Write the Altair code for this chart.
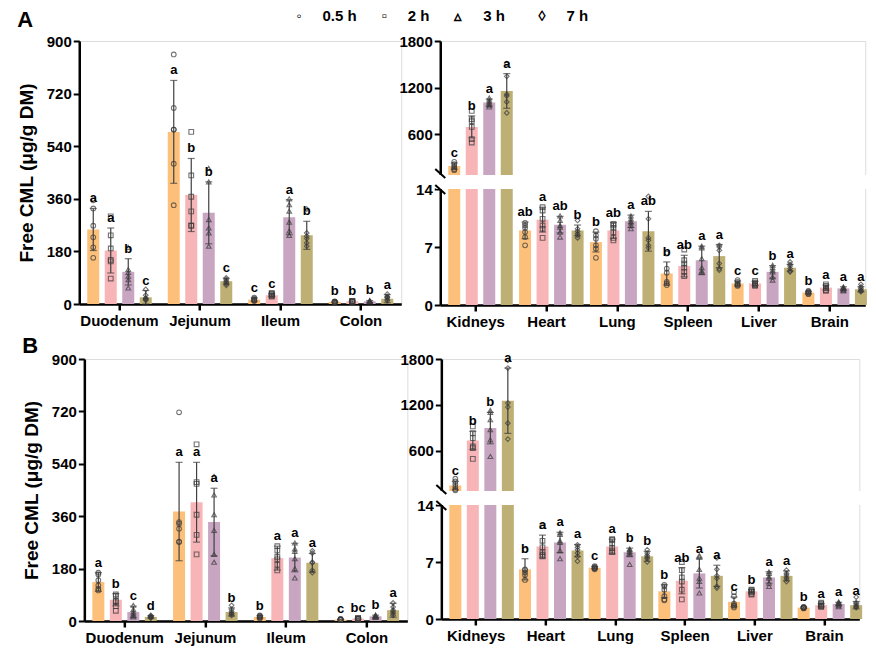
import altair as alt
import pandas as pd

# ---------------- data ----------------
times = ["0.5 h", "2 h", "3 h", "7 h"]
gi_tissues = ["Duodenum", "Jejunum", "Ileum", "Colon"]
organs = ["Kidneys", "Heart", "Lung", "Spleen", "Liver", "Brain"]

# Panel A - GI tract
a_gi_mean = [[255, 183, 110, 23], [589, 373, 312, 78], [15, 30, 297, 235], [7, 9, 9, 18]]
a_gi_sd = [[72, 77, 45, 23], [176, 125, 106, 10], [6, 5, 60, 48], [2, 2, 3, 14]]
a_gi_letters = [["a", "a", "b", "c"], ["a", "b", "b", "c"], ["c", "c", "a", "b"], ["b", "b", "b", "a"]]
a_gi_points = [
    [[355, 327, 268, 228, 194, 158], [300, 235, 190, 151, 146, 87], [194, 118, 108, 95, 83, 55], [50, 30, 20, 18, 15, 13]],
    [[854, 671, 597, 597, 480, 338], [589, 440, 367, 317, 268, 268], [464, 418, 289, 260, 243, 198], [89, 83, 78, 74, 69, 64]],
    [[22, 18, 15, 13, 12, 10], [38, 35, 33, 30, 28, 25], [360, 340, 318, 280, 250, 235], [325, 243, 232, 224, 209, 198]],
    [[9, 8, 7, 7, 6, 5], [11, 10, 9, 9, 8, 7], [12, 10, 9, 9, 8, 7], [34, 26, 23, 21, 15, 11]],
]

# Panel A - organs
a_org_mean = [[190, 694, 1007, 1157], [9.0, 10.3, 9.7, 9.0], [7.6, 9.0, 10.1, 8.9],
              [3.8, 4.7, 5.4, 5.9], [2.6, 2.6, 4.0, 4.5], [1.5, 2.1, 2.0, 1.9]]
a_org_sd = [[40, 142, 47, 223], [1.0, 1.5, 1.0, 0.65], [1.2, 0.95, 0.75, 2.4],
            [1.4, 1.3, 1.7, 1.4], [0.3, 0.25, 0.75, 0.4], [0.15, 0.3, 0.2, 0.3]]
a_org_letters = [["c", "b", "a", "a"], ["ab", "a", "ab", "b"], ["b", "ab", "a", "ab"],
                 ["b", "ab", "a", "a"], ["c", "c", "b", "a"], ["b", "a", "a", "a"]]
a_org_points = [
    [[244, 214, 189, 171, 150, 137], [900, 793, 767, 694, 536, 493], [1067, 1037, 1016, 994, 973, 951], [1509, 1346, 1114, 1093, 1016, 874]],
    [[9.9, 9.6, 9.3, 8.8, 8.2, 7.2], [11.8, 11.4, 10.4, 9.6, 9.2, 8.1], [10.75, 10.2, 9.6, 9.4, 8.8, 8.2], [10.2, 9.2, 8.9, 8.6, 8.4, 8.1]],
    [[8.9, 8.4, 8.0, 7.2, 6.8, 5.7], [9.8, 9.6, 9.3, 8.8, 8.1, 7.8], [10.75, 10.4, 10.1, 9.9, 9.6, 9.2], [13.1, 10.4, 8.1, 7.8, 7.2, 6.9]],
    [[6.2, 4.4, 3.9, 2.8, 2.6, 2.4], [6.7, 5.4, 5.0, 4.5, 4.0, 3.5], [7.1, 6.9, 5.6, 4.5, 4.1, 3.9], [7.2, 7.0, 6.6, 5.0, 4.4, 4.2]],
    [[3.0, 2.8, 2.6, 2.5, 2.4, 2.3], [2.9, 2.7, 2.6, 2.5, 2.4, 2.3], [4.8, 4.5, 4.2, 4.0, 3.4, 3.0], [5.2, 4.9, 4.7, 4.4, 4.1, 4.0]],
    [[1.7, 1.6, 1.5, 1.5, 1.4, 1.3], [2.5, 2.3, 2.1, 2.0, 1.8, 1.7], [2.2, 2.1, 2.0, 1.9, 1.8, 1.7], [2.5, 2.2, 2.0, 1.8, 1.7, 1.6]],
]

# Panel B - GI tract
b_gi_mean = [[134, 73, 31, 14], [376, 408, 340, 31], [14, 216, 218, 200], [5, 8, 16, 37]]
b_gi_sd = [[32, 21, 20, 4], [169, 137, 116, 14], [4, 41, 49, 32], [1, 2, 4, 24]]
b_gi_letters = [["a", "b", "c", "d"], ["a", "a", "a", "b"], ["b", "a", "a", "a"], ["c", "bc", "b", "a"]]
b_gi_points = [
    [[166, 160, 140, 122, 111, 105], [91, 86, 69, 65, 51, 35], [54, 40, 31, 24, 19, 14], [19, 17, 15, 13, 12, 10]],
    [[717, 340, 334, 317, 273, 271], [607, 477, 471, 365, 296, 229], [497, 433, 365, 311, 229, 202], [54, 40, 33, 27, 24, 19]],
    [[19, 17, 15, 13, 11, 9], [257, 242, 220, 212, 193, 174], [268, 248, 239, 214, 180, 148], [241, 233, 202, 200, 174, 166]],
    [[7, 6, 5, 5, 4, 4], [10, 9, 8, 8, 7, 6], [21, 18, 16, 15, 14, 12], [62, 48, 37, 31, 25, 19]],
]

# Panel B - organs
b_org_mean = [[146, 735, 897, 1255], [6.1, 8.9, 9.4, 8.4], [6.3, 8.9, 8.2, 7.7],
              [3.4, 4.7, 5.6, 5.3], [2.1, 3.4, 5.1, 5.3], [1.4, 1.7, 1.85, 1.7]]
b_org_sd = [[55, 118, 205, 427], [1.3, 1.4, 1.25, 0.75], [0.15, 0.9, 0.5, 0.6],
            [0.8, 1.6, 1.8, 1.3], [0.6, 0.2, 0.7, 0.6], [0.08, 0.2, 0.2, 0.45]]
b_org_letters = [["c", "b", "b", "a"], ["b", "a", "a", "a"], ["c", "a", "b", "b"],
                 ["b", "ab", "a", "a"], ["c", "b", "a", "a"], ["b", "a", "a", "a"]]
b_org_points = [
    [[235, 200, 165, 130, 100, 85], [919, 831, 766, 657, 635, 495], [1128, 1102, 1006, 875, 744, 526], [1783, 1682, 1224, 1172, 962, 753]],
    [[8.5, 6.1, 6.0, 5.7, 5.4, 4.8], [11.4, 9.6, 8.8, 8.2, 7.9, 7.7], [10.6, 10.4, 9.6, 9.4, 8.4, 7.4], [9.1, 8.8, 8.5, 8.1, 7.7, 7.1]],
    [[6.5, 6.4, 6.3, 6.25, 6.2, 6.1], [9.8, 9.7, 9.3, 8.7, 8.4, 8.2], [8.6, 8.5, 8.3, 8.1, 7.9, 6.7], [8.5, 8.1, 7.8, 7.6, 7.4, 7.0]],
    [[4.2, 4.0, 3.6, 2.8, 2.4, 2.3], [7.0, 6.0, 5.1, 4.6, 3.6, 2.4], [7.8, 7.6, 6.1, 5.0, 4.6, 3.2], [7.5, 6.1, 5.3, 5.0, 4.0, 3.8]],
    [[3.3, 2.8, 1.9, 1.7, 1.6, 1.4], [3.6, 3.5, 3.4, 3.3, 3.1, 3.0], [5.8, 5.6, 5.2, 5.0, 4.4, 4.0], [6.0, 5.6, 5.4, 5.1, 4.9, 4.6]],
    [[1.5, 1.45, 1.4, 1.4, 1.35, 1.3], [2.0, 1.85, 1.7, 1.6, 1.5, 1.55], [2.1, 2.0, 1.95, 1.8, 1.65, 1.5], [2.7, 2.0, 1.85, 1.65, 1.5, 1.4]],
]

gi_ticks = [0, 180, 360, 540, 720, 900]
org_ticks = [0, 7, 14, 600, 1200, 1800]
BREAK = 75  # value where the upper segment of the broken axis starts

bar_colors = ["#FDC07A", "#F8B5B8", "#C8A6C2", "#BEAF74"]
shapes = ["circle", "square", "triangle-up", "diamond"]
legend_symbols = ["\u25e6", "\u25ab", "\u25b5", "\u25ca"]
FONT = "Liberation Sans"

NB = "\u00a0"
legend_text = ""
for i, (sym, tm) in enumerate(zip(legend_symbols, times)):
    gap = NB * (8 if i == 2 else 6)
    legend_text += sym + NB * 5 + tm.replace(" ", NB) + (gap if i < 3 else "")


def frames(tissues, means, sds, letters, points):
    bars, pts = [], []
    for i, t in enumerate(tissues):
        for j, tm in enumerate(times):
            m, s = means[i][j], sds[i][j]
            bars.append(dict(tissue=t, time=tm, mean=m, lo=m - s, hi=m + s, letter=letters[i][j]))
            for v in points[i][j]:
                pts.append(dict(tissue=t, time=tm, period=tm, value=v))
    return pd.DataFrame(bars), pd.DataFrame(pts)


def panel(tissues, means, sds, letters, points, width, height, broken, title,
          title_offset, pi, po):
    bdf, pdf_ = frames(tissues, means, sds, letters, points)
    if broken:
        y14 = round(height * 0.56)
        yb = y14 - 14
        yscale = alt.Scale(domain=[0, 14, BREAK, 1800], range=[height, y14, yb, 0], nice=False, zero=False)
        yaxis = alt.Axis(values=org_ticks, format="d", title=None, grid=False, labelFontSize=15,
                         labelFontWeight="bold", labelColor="black", tickSize=6, tickWidth=2,
                         tickColor="black", domainWidth=2.5, domainColor="black", labelPadding=2,
                         labelFont=FONT)
    else:
        yscale = alt.Scale(domain=[0, 900], nice=False)
        yaxis = alt.Axis(values=gi_ticks, format="d", title="Free CML (μg/g DM)", titleFontSize=19,
                         titleFontWeight="bold", titleColor="black", titlePadding=10, titleFont=FONT,
                         grid=False, labelFontSize=15, labelFontWeight="bold", labelColor="black",
                         tickSize=6, tickWidth=2, tickColor="black", domainWidth=2.5,
                         domainColor="black", labelPadding=2, labelFont=FONT)
    xaxis = alt.Axis(title=None, labelAngle=0, labelFontSize=15, labelFontWeight="bold",
                     labelColor="black", tickSize=6, tickWidth=2.5, tickColor="black",
                     domainWidth=2.5, domainColor="black", labelPadding=3, labelFont=FONT)
    x = alt.X("tissue:N", sort=tissues, scale=alt.Scale(domain=tissues, paddingInner=0, paddingOuter=0), axis=xaxis)
    xo = alt.XOffset("time:N", sort=times, scale=alt.Scale(domain=times, paddingInner=pi, paddingOuter=po))
    color = alt.Color("time:N", sort=times, scale=alt.Scale(domain=times, range=bar_colors), legend=None)

    def Y(field):
        return alt.Y(field, scale=yscale, axis=yaxis)

    base = alt.Chart(bdf)
    bars = base.mark_bar().encode(x=x, xOffset=xo, y=Y("mean:Q"), color=color)
    rules = base.mark_rule(color="#404040", strokeWidth=1.2).encode(x=x, xOffset=xo, y=Y("lo:Q"), y2="hi:Q")
    cap_hi = base.mark_tick(orient="horizontal", size=7, thickness=1.2, color="#404040").encode(
        x=x, xOffset=xo, y=Y("hi:Q"))
    cap_lo = base.mark_tick(orient="horizontal", size=7, thickness=1.2, color="#404040").encode(
        x=x, xOffset=xo, y=Y("lo:Q"))
    pts = alt.Chart(pdf_).mark_point(filled=False, size=22, strokeWidth=1.1, color="#3a3a3a").encode(
        x=x, xOffset=xo, y=Y("value:Q"),
        shape=alt.Shape("period:N", sort=times, scale=alt.Scale(domain=times, range=shapes), legend=None))
    txt = base.mark_text(baseline="bottom", dy=-3, fontSize=13, fontWeight="bold", color="black",
                         font=FONT).encode(x=x, xOffset=xo, y=Y("hi:Q"), text="letter:N")
    layers = [bars, rules, cap_hi, cap_lo, pts, txt]
    if broken:
        one = alt.Chart(pd.DataFrame({"d": [0]}))
        gap = one.mark_rect(color="white").encode(
            x=alt.value(-4), x2=alt.value(width + 2),
            y=alt.Y(datum=14, scale=yscale, axis=yaxis), y2=alt.Y2(datum=BREAK))
        s1 = one.mark_rule(color="black", strokeWidth=2).encode(
            x=alt.value(-5), x2=alt.value(5), y=alt.value(yb - 6), y2=alt.value(yb + 3))
        s2 = one.mark_rule(color="black", strokeWidth=2).encode(
            x=alt.value(-5), x2=alt.value(5), y=alt.value(y14 - 4), y2=alt.value(y14 + 5))
        layers = [bars, gap, s1, s2, rules, cap_hi, cap_lo, pts, txt]
    return alt.layer(*layers).properties(
        width=width, height=height,
        title=alt.TitleParams(title, anchor="start", fontSize=22, fontWeight="bold", color="black",
                              offset=title_offset, font=FONT))


leftA = panel(gi_tissues, a_gi_mean, a_gi_sd, a_gi_letters, a_gi_points, 322, 263, False, "A", 2, 0.314, 0.457)
rightA = panel(organs, a_org_mean, a_org_sd, a_org_letters, a_org_points, 425, 264, True, " ", 2, 0.216, 0.42)
leftB = panel(gi_tissues, b_gi_mean, b_gi_sd, b_gi_letters, b_gi_points, 323, 262, False, "B", -6, 0.314, 0.457)
rightB = panel(organs, b_org_mean, b_org_sd, b_org_letters, b_org_points, 418, 260, True, " ", -6, 0.216, 0.42)

rowA = alt.hconcat(leftA, rightA, spacing=-4)
rowB = alt.hconcat(leftB, rightB, spacing=-9)

chart = alt.vconcat(rowA, rowB, spacing=4, center=True).properties(
    padding={"left": 8, "top": 0, "right": 0, "bottom": 0},
    title=alt.TitleParams(legend_text, anchor="middle", fontSize=15, fontWeight="bold",
                          color="black", offset=-15, font=FONT)
).configure_view(stroke=None).configure(font=FONT, background="white")

chart.save("out.html", embed_options={"renderer": "svg", "actions": False})
